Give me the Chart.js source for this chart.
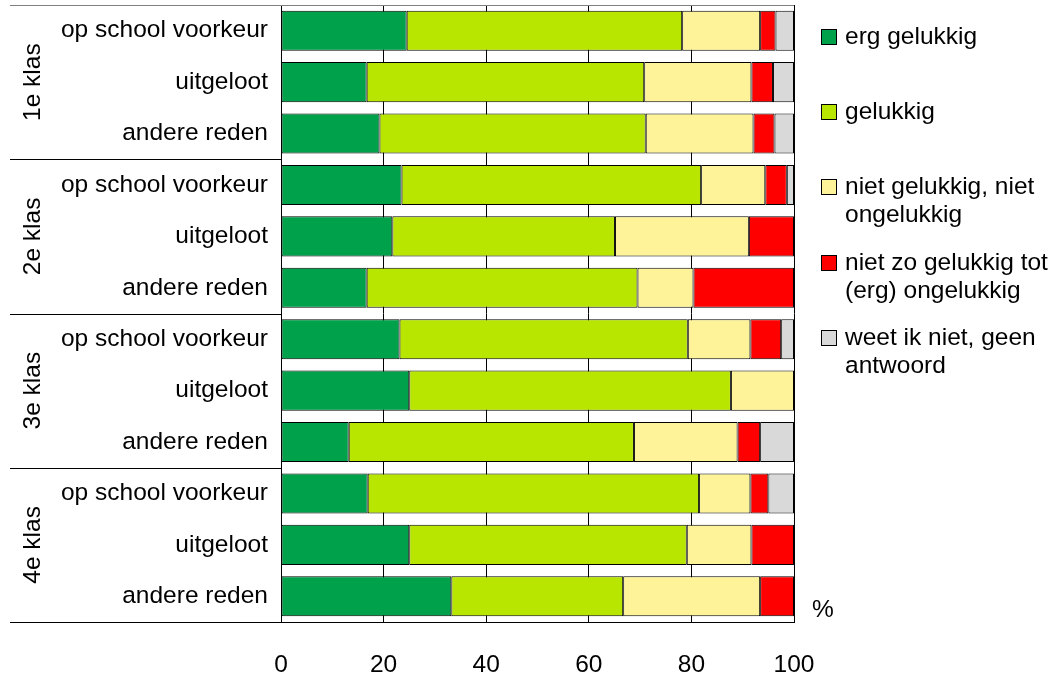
<!DOCTYPE html>
<html lang="nl">
<head>
  <meta charset="UTF-8">
  <title>Gelukkig op school</title>
  <script src="https://cdn.jsdelivr.net/npm/chart.js@4/dist/chart.umd.min.js"></script>
  <style>
    body { margin: 0; background: #fff; }
    #wrap { width: 1062px; height: 676px; }
  </style>
</head>
<body>
  <div id="wrap"><canvas id="mychart" width="1062" height="676"></canvas></div>

  <script type="text/javascript">
    // data (percentages per bar, top to bottom)
    const categories = ['op school voorkeur', 'uitgeloot', 'andere reden',
                        'op school voorkeur', 'uitgeloot', 'andere reden',
                        'op school voorkeur', 'uitgeloot', 'andere reden',
                        'op school voorkeur', 'uitgeloot', 'andere reden'];
    const groups = ['1e klas', '2e klas', '3e klas', '4e klas'];
    const xTicks = [0, 20, 40, 60, 80, 100];

    const ergGelukkig = [24.5, 16.7, 19.2, 23.5, 21.7, 16.7, 23.1, 25.0, 13.2, 16.9, 25.0, 33.2];
    const gelukkig    = [53.7, 54.1, 51.9, 58.4, 43.4, 52.8, 56.2, 62.7, 55.6, 64.6, 54.1, 33.5];
    const neutraal    = [15.2, 20.9, 21.0, 12.5, 26.1, 10.9, 12.2, 12.3, 20.2, 10.0, 12.6, 26.7];
    const ongelukkig  = [3.0, 4.2, 4.1, 4.2, 8.8, 19.6, 6.0, 0, 4.4, 3.5, 8.3, 6.6];
    const weetNiet    = [3.6, 4.1, 3.8, 1.4, 0, 0, 2.5, 0, 6.6, 5.0, 0, 0];

    const seriesNames = [
      ['erg gelukkig'],
      ['gelukkig'],
      ['niet gelukkig, niet', 'ongelukkig'],
      ['niet zo gelukkig tot', '(erg) ongelukkig'],
      ['weet ik niet, geen', 'antwoord']
    ];
    const seriesColors = ['#00A14B', '#B8E600', '#FFF399', '#FF0000', '#D9D9D9'];
    const seriesData = [ergGelukkig, gelukkig, neutraal, ongelukkig, weetNiet];

    const FONT = 'Liberation Sans, Arial, sans-serif';
    const FS = 24.5;

    const datasets = seriesData.map((d, i) => ({
      label: seriesNames[i].join(' '),
      data: d,
      backgroundColor: seriesColors[i],
      borderColor: '#000',
      borderWidth: 1,
      borderSkipped: false,
      barPercentage: 0.78,
      categoryPercentage: 1
    }));

    const extras = {
      id: 'extras',
      afterDraw(chart) {
        const ctx = chart.ctx;
        const area = chart.chartArea;
        const y = chart.scales.y;
        ctx.save();

        // group separators on the left
        ctx.lineWidth = 1;
        for (let g = 0; g <= groups.length; g++) {
          let py;
          if (g === 0) py = area.top;
          else if (g === groups.length) py = area.bottom;
          else py = y.getPixelForValue(g * 3 - 0.5);
          py = Math.round(py) + 0.5;
          ctx.strokeStyle = (g === 0) ? '#808080' : '#000';
          ctx.beginPath();
          ctx.moveTo(10, py);
          ctx.lineTo((g === 0 || g === groups.length) ? area.right : area.left, py);
          ctx.stroke();
        }

        // rotated group labels
        ctx.fillStyle = '#000';
        ctx.font = FS + 'px ' + FONT;
        ctx.textAlign = 'center';
        ctx.textBaseline = 'middle';
        groups.forEach((g, i) => {
          const cy = y.getPixelForValue(i * 3 + 1);
          ctx.save();
          ctx.translate(33, cy);
          ctx.rotate(-Math.PI / 2);
          ctx.fillText(g, 0, 0);
          ctx.restore();
        });

        // % sign
        ctx.fillText('%', 823, 610);

        // legend
        ctx.textAlign = 'left';
        const itemY = [37, 112, 187, 263, 338];
        seriesNames.forEach((lines, i) => {
          ctx.fillStyle = seriesColors[i];
          ctx.fillRect(821, itemY[i] - 8, 15, 15);
          ctx.strokeStyle = '#000';
          ctx.strokeRect(821.5, itemY[i] - 7.5, 15, 15);
          ctx.fillStyle = '#000';
          lines.forEach((t, k) => ctx.fillText(t, 845, itemY[i] + k * 28));
        });
        ctx.restore();
      }
    };

    const config = {
      type: 'bar',
      data: { labels: categories, datasets: datasets },
      options: {
        indexAxis: 'y',
        responsive: false,
        animation: false,
        layout: { padding: { top: 5, right: 268, left: 0, bottom: 0 } },
        plugins: {
          legend: { display: false },
          tooltip: { enabled: false }
        },
        scales: {
          x: {
            stacked: true,
            min: 0,
            max: 100,
            afterBuildTicks: (s) => { s.ticks = xTicks.map(v => ({ value: v })); },
            afterFit: (s) => { s.height = 54; s.paddingLeft = 0; s.paddingRight = 0; },
            grid: { color: '#000', drawTicks: false, lineWidth: 1 },
            border: { display: true, color: '#000' },
            ticks: { color: '#000', padding: 29, font: { family: FONT, size: FS } }
          },
          y: {
            stacked: true,
            afterFit: (s) => { s.width = 281; s.paddingTop = 0; s.paddingBottom = 0; },
            grid: { display: false, drawTicks: false },
            border: { display: true, color: '#000' },
            ticks: { color: '#000', padding: 13, font: { family: FONT, size: FS } }
          }
        }
      },
      plugins: [extras]
    };

    new Chart(document.getElementById('mychart'), config);
  </script>
</body>
</html>
